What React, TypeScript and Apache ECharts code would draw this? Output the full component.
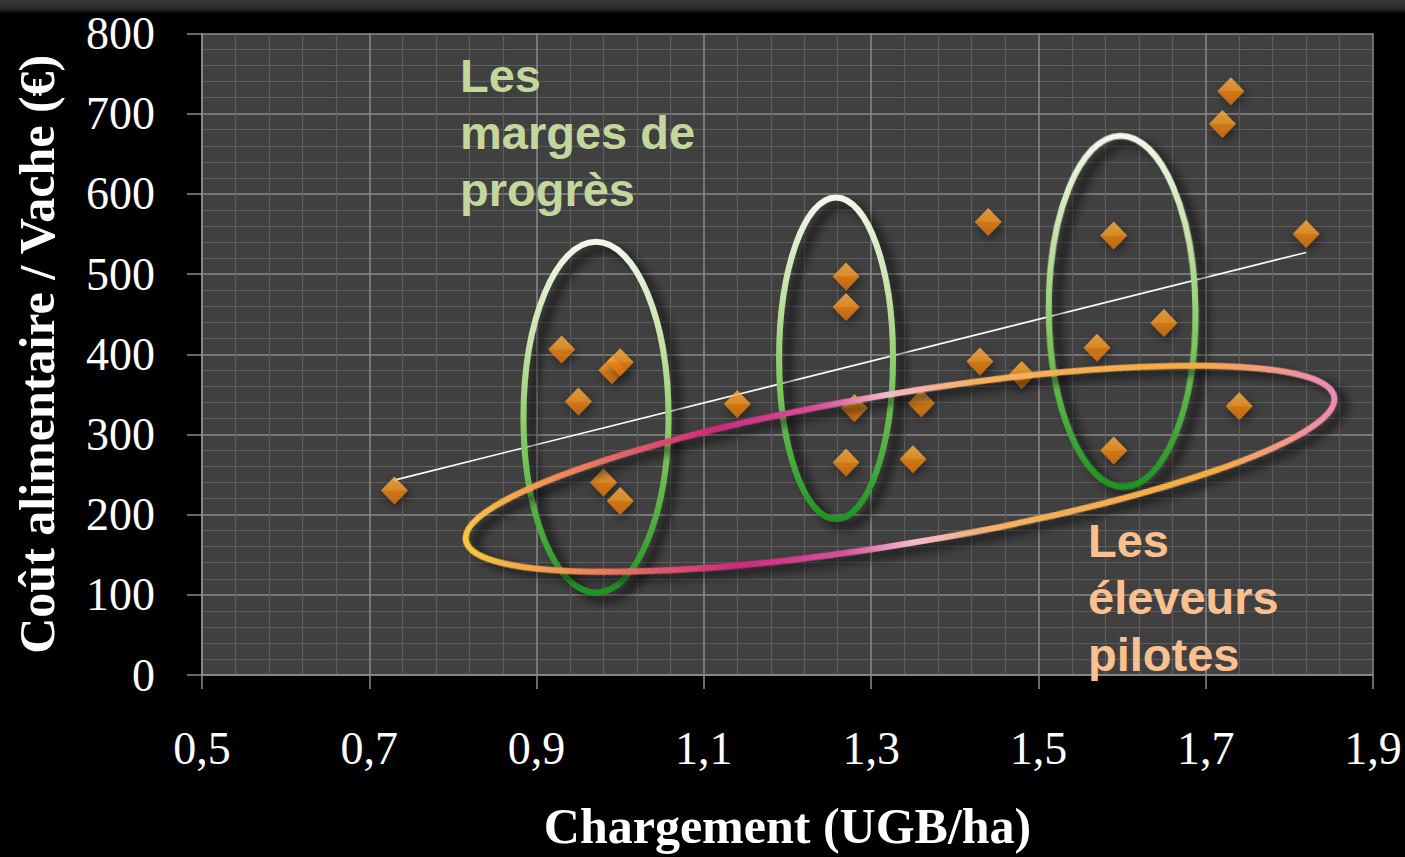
import React, { useEffect, useRef } from "react";
import * as echarts from "echarts";

// ---- data ----
const chargement = [0.73, 0.93, 0.95, 0.99, 1.0, 0.98, 1.0, 1.14, 1.27, 1.27, 1.28, 1.27, 1.36, 1.35, 1.44, 1.43, 1.48, 1.59, 1.57, 1.59, 1.65, 1.73, 1.72, 1.82, 1.74];
const coutAlimentaire = [230, 406, 341, 380, 390, 240, 217, 338, 497, 459, 333, 265, 339, 269, 565, 391, 374, 548, 408, 280, 439, 728, 687, 550, 335];

const trendX = [0.73, 1.82];
const trendY = [243, 527];

const xTickValues = [0.5, 0.7, 0.9, 1.1, 1.3, 1.5, 1.7, 1.9];
const xTickLabels = ["0,5", "0,7", "0,9", "1,1", "1,3", "1,5", "1,7", "1,9"];

// annotation ellipses (data units): centre x, centre y, half-width (x units), half-height (y units), rotation (deg)
const ellipseCx = [0.971, 1.258, 1.6, 1.3345];
const ellipseCy = [321.5, 395, 453.6, 257.3];
const ellipseRx = [0.0867, 0.0681, 0.0877, 0.526];
const ellipseRy = [218.7, 200.6, 219, 93.5];
const ellipseRot = [0, 0, 0.5, 9.4];
const ellipseKind = ["green", "green", "green", "orange"];

const labelGreen = "Les\nmarges de\nprogrès";
const labelOrange = "Les\néleveurs\npilotes";

export default function App() {
  const ref = useRef<HTMLDivElement>(null);

  useEffect(() => {
    if (!ref.current) return;
    document.body.style.margin = "0";
    document.body.style.background = "#000";
    const chart = echarts.init(ref.current, undefined, { renderer: "svg" });

    const scatterData = chargement.map((x, i) => [x, coutAlimentaire[i]]);
    const trendData = trendX.map((x, i) => [x, trendY[i]]);
    const ellipseData = ellipseCx.map((cx, i) => [cx, ellipseCy[i], ellipseRx[i], ellipseRy[i], ellipseRot[i], i]);

    const greenGrad = () =>
      new echarts.graphic.LinearGradient(0, 0, 0, 1, [
        { offset: 0, color: "#f2f8ec" },
        { offset: 0.3, color: "#c4e2a4" },
        { offset: 0.6, color: "#7cc65a" },
        { offset: 1, color: "#1f9422" },
      ]);
    const orangeGrad = () =>
      new echarts.graphic.LinearGradient(0, 0, 1, 0, [
        { offset: 0, color: "#fbc63e" },
        { offset: 0.12, color: "#f08a5a" },
        { offset: 0.3, color: "#d0287a" },
        { offset: 0.42, color: "#d8509a" },
        { offset: 0.5, color: "#f4b8cc" },
        { offset: 0.6, color: "#f6b060" },
        { offset: 0.85, color: "#f6ac40" },
        { offset: 1, color: "#f08ab8" },
      ]);

    const serif = "'Liberation Serif', 'DejaVu Serif', serif";
    const sans = "'Liberation Sans', Arial, sans-serif";

    chart.setOption({
      animation: false,
      backgroundColor: "#000000",
      grid: {
        left: 202,
        top: 33.5,
        right: 32,
        bottom: 182,
        show: true,
        backgroundColor: "#404040",
        borderWidth: 0,
      },
      xAxis: {
        type: "value",
        min: 0.5,
        max: 1.9,
        interval: 0.2,
        name: "Chargement (UGB/ha)",
        nameLocation: "middle",
        nameGap: 126,
        nameTextStyle: { color: "#ffffff", fontFamily: serif, fontWeight: "bold", fontSize: 50 },
        axisLine: { show: true, onZero: false, lineStyle: { color: "#8e8e8e", width: 1.5 } },
        axisTick: { show: true, inside: false, length: 14, lineStyle: { color: "#8e8e8e", width: 1.5 } },
        axisLabel: {
          color: "#ffffff",
          fontFamily: serif,
          fontSize: 46,
          margin: 50,
          formatter: (v: number) => {
            const idx = xTickValues.findIndex((t) => Math.abs(t - v) < 1e-6);
            return idx >= 0 ? xTickLabels[idx] : "";
          },
        },
        splitLine: { show: true, lineStyle: { color: "#8a8a8a", width: 1.5 } },
        minorTick: { show: false, splitNumber: 5 },
        minorSplitLine: { show: true, lineStyle: { color: "#5e5e5e", width: 1.2 } },
      },
      yAxis: {
        type: "value",
        min: 0,
        max: 800,
        interval: 100,
        name: "Coût alimentaire / Vache (€)",
        nameLocation: "middle",
        nameGap: 140,
        nameRotate: 90,
        nameTextStyle: { color: "#ffffff", fontFamily: serif, fontWeight: "bold", fontSize: 50 },
        axisLine: { show: true, lineStyle: { color: "#8e8e8e", width: 1.5 } },
        axisTick: { show: true, inside: false, length: 15, lineStyle: { color: "#8e8e8e", width: 1.5 } },
        axisLabel: { color: "#ffffff", fontFamily: serif, fontSize: 46, margin: 47 },
        splitLine: { show: true, lineStyle: { color: "#8a8a8a", width: 1.5 } },
        minorTick: { show: false, splitNumber: 5 },
        minorSplitLine: { show: true, lineStyle: { color: "#5e5e5e", width: 1.2 } },
      },
      series: [
        {
          type: "line",
          data: trendData,
          symbol: "none",
          lineStyle: { color: "#ffffff", width: 1.6 },
          z: 2,
        },
        {
          type: "scatter",
          data: scatterData,
          symbol: "diamond",
          symbolSize: [27, 28],
          z: 3,
          itemStyle: {
            color: new echarts.graphic.LinearGradient(0, 0, 0, 1, [
              { offset: 0, color: "#ffb24c" },
              { offset: 0.48, color: "#f99a22" },
              { offset: 0.52, color: "#ed8414" },
              { offset: 1, color: "#dc6e0a" },
            ]),
            shadowBlur: 10,
            shadowColor: "rgba(0,0,0,0.55)",
            shadowOffsetX: 2,
            shadowOffsetY: 4,
          },
        },
        {
          type: "custom",
          data: ellipseData,
          z: 5,
          clip: false,
          silent: true,
          renderItem: (params: any, api: any) => {
            const c = api.coord([api.value(0), api.value(1)]);
            const s = api.size([api.value(2), api.value(3)]);
            const kind = ellipseKind[api.value(5)];
            return {
              type: "ellipse",
              x: c[0],
              y: c[1],
              rotation: (api.value(4) * Math.PI) / 180,
              shape: { cx: 0, cy: 0, rx: s[0], ry: s[1] },
              style: {
                fill: "none",
                stroke: kind === "green" ? greenGrad() : orangeGrad(),
                lineWidth: 6,
                shadowBlur: 10,
                shadowColor: "rgba(0,0,0,0.75)",
                shadowOffsetX: 9,
                shadowOffsetY: 7,
              },
            };
          },
        },
      ],
      graphic: [
        {
          type: "rect",
          left: 0,
          top: 0,
          shape: { width: 1405, height: 14 },
          style: {
            fill: new echarts.graphic.LinearGradient(0, 0, 0, 1, [
              { offset: 0, color: "#3a3a3a" },
              { offset: 0.6, color: "#2a2a2a" },
              { offset: 1, color: "#000000" },
            ]),
          },
          silent: true,
        },
        {
          type: "text",
          left: 460,
          top: 47,
          z: 10,
          style: {
            text: labelGreen,
            fill: "#c3d69b",
            font: `bold 47px ${sans}`,
            lineHeight: 57,
            shadowColor: "rgba(0,0,0,0.75)",
            shadowBlur: 4,
            shadowOffsetX: 3,
            shadowOffsetY: 3,
          },
        },
        {
          type: "text",
          left: 1088,
          top: 512,
          z: 10,
          style: {
            text: labelOrange,
            fill: "#fac090",
            font: `bold 47px ${sans}`,
            lineHeight: 57,
            shadowColor: "rgba(0,0,0,0.75)",
            shadowBlur: 4,
            shadowOffsetX: 3,
            shadowOffsetY: 3,
          },
        },
      ],
    });

    return () => chart.dispose();
  }, []);

  return (
    <div
      ref={ref}
      style={{ position: "fixed", left: 0, top: 0, width: 1405, height: 857, background: "#000" }}
    />
  );
}
